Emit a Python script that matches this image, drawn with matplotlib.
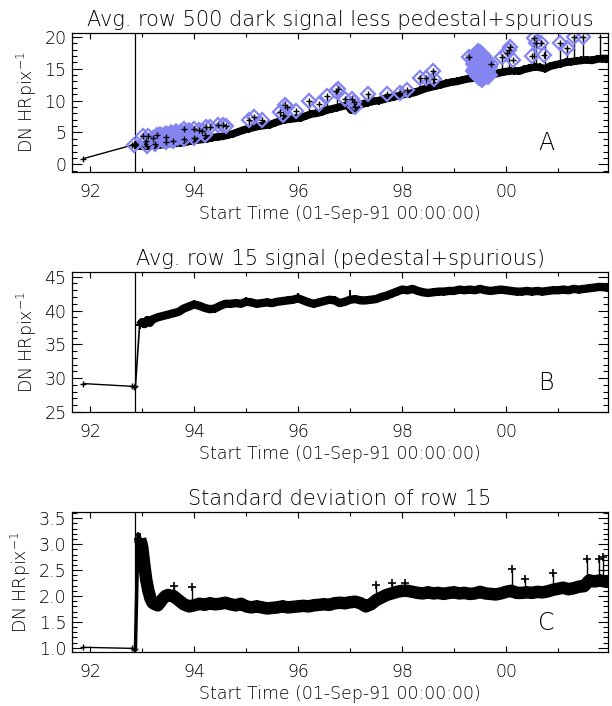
import numpy as np
import matplotlib.pyplot as plt

# x in years since 1900 (92 = 1 Jan 1992)
t_start = 91.65
t_end = 101.96
t_line = 92.87   # vertical marker line
xticks = [92, 94, 96, 98, 100]
xticklabels = ['92', '94', '96', '98', '00']
xminor = [93, 95, 97, 99, 101]

# ---- panel A : row 500 dark signal ----
a_t = [91.87, 92.80, 92.84, 92.87, 92.95, 93.05, 93.15, 93.25, 93.35, 93.45, 93.55, 93.65,
       93.75, 93.85, 93.95, 94.05, 94.15, 94.25, 94.35, 94.45, 94.55, 94.65, 94.75, 94.85,
       94.95, 95.05, 95.15, 95.25, 95.35, 95.45, 95.55, 95.65, 95.75, 95.85, 95.95, 96.05,
       96.15, 96.25, 96.35, 96.45, 96.55, 96.65, 96.75, 96.85, 96.95, 97.02, 97.08, 97.15,
       97.25, 97.35, 97.45, 97.55, 97.65, 97.75, 97.85, 97.95, 98.05, 98.15, 98.25, 98.35,
       98.45, 98.55, 98.65, 98.75, 98.85, 98.95, 99.05, 99.15, 99.25, 99.35, 99.45, 99.55,
       99.65, 99.75, 99.85, 99.95, 100.05, 100.15, 100.25, 100.35, 100.45, 100.55, 100.65,
       100.75, 100.85, 100.95, 101.05, 101.15, 101.25, 101.35, 101.45, 101.55, 101.65,
       101.75, 101.85, 101.95]
a_v = [0.9, 3.0, 3.1, 3.0, 2.9, 2.8, 2.9, 3.0, 3.1, 3.1, 3.3, 3.3,
       3.4, 3.5, 3.7, 3.8, 3.9, 4.0, 4.2, 4.3, 4.4, 4.6, 4.8, 5.1,
       5.4, 5.6, 5.8, 6.0, 6.1, 6.2, 6.5, 6.8, 7.0, 7.1, 7.2, 7.3,
       7.6, 7.9, 8.0, 8.2, 8.5, 8.7, 8.9, 9.1, 9.3, 8.5, 8.7, 9.2,
       9.5, 9.7, 9.9, 10.0, 10.2, 10.4, 10.6, 10.8, 11.0, 11.1, 11.3, 11.6,
       11.9, 12.1, 12.3, 12.5, 12.7, 12.9, 13.0, 13.2, 13.4, 13.5, 13.7, 13.8,
       13.9, 14.1, 14.3, 14.5, 14.6, 14.7, 14.6, 14.9, 15.1, 15.3, 15.2,
       15.0, 15.4, 15.6, 15.8, 16.0, 16.1, 16.2, 16.3, 16.4, 16.3,
       16.5, 16.6, 16.6]

# spikes above the band: time, band level, top
a_spike_t = [95.05, 95.15, 95.65, 95.75, 96.20, 96.55, 96.75, 97.35, 97.70, 98.10,
             98.35, 98.45, 98.60, 99.28, 99.92, 100.05, 100.53, 100.58, 100.75,
             101.03, 101.17, 101.31, 101.47, 101.81]
a_spike_lo = [5.6, 5.8, 6.8, 7.0, 7.6, 8.5, 8.9, 9.7, 10.2, 11.0,
              11.6, 11.9, 12.1, 13.4, 14.3, 14.6, 15.3, 15.3, 15.0,
              15.7, 15.9, 16.1, 16.3, 16.5]
a_spike_hi = [7.0, 7.5, 8.2, 9.3, 9.9, 10.7, 11.8, 11.0, 11.0, 11.7,
              13.6, 13.6, 14.7, 16.8, 16.9, 18.0, 19.8, 19.0, 18.8,
              18.8, 18.2, 19.9, 20.0, 20.4]

# flagged points (blue diamonds)
a_flag_t = [92.85, 93.02, 93.08, 93.12, 93.20, 93.28, 93.45, 93.80, 94.00, 94.10,
            94.16, 94.22, 94.30, 93.10, 93.25, 93.45, 93.60, 93.80, 94.00,
            94.20, 94.45, 94.55, 94.62, 95.05, 95.15, 95.30, 95.65, 95.70, 95.75, 95.78,
            95.95, 96.20, 96.40, 96.55, 96.73, 96.76, 96.90, 97.03, 97.08, 97.10, 97.35,
            97.70, 97.95, 98.10, 98.35, 98.45, 98.60, 98.62, 99.28, 99.70, 99.92, 100.02,
            100.05, 100.08, 100.13, 100.50, 100.53, 100.58, 100.67, 100.73, 101.03,
            101.17, 101.31, 101.47]
a_flag_v = [3.1, 4.4, 3.7, 4.5, 4.2, 4.6, 4.3, 5.5, 5.6, 5.4,
            5.3, 5.8, 5.9, 2.9, 3.2, 3.5, 3.6, 3.9, 4.1,
            4.6, 6.2, 6.2, 6.0, 7.0, 7.5, 7.0, 8.2, 7.8, 9.3, 9.0,
            8.4, 9.9, 9.4, 10.7, 11.5, 11.8, 10.2, 10.3, 9.8, 9.0, 11.0,
            11.0, 11.2, 11.7, 13.6, 13.6, 14.7, 13.4, 16.8, 15.7, 16.9, 17.5,
            18.0, 18.4, 16.4, 17.0, 19.8, 19.0, 19.0, 17.1, 19.0,
            18.3, 19.9, 20.0]
# dense overlapping group in 1993
a_mass_t = [93.30, 93.35, 93.40, 93.45, 93.50, 93.55, 93.60, 93.65, 93.70, 93.75,
            93.80, 93.85, 93.38, 93.45, 93.52, 93.60, 93.68, 93.75, 93.90, 93.95]
a_mass_v = [4.3, 4.6, 4.4, 4.8, 4.5, 4.9, 4.6, 5.0, 4.7, 5.1,
            4.8, 5.0, 3.9, 4.0, 4.1, 4.2, 4.3, 4.4, 5.2, 4.9]
# dense overlapping group near mid-1999
a_blob_t = [99.38, 99.42, 99.46, 99.50, 99.54, 99.58, 99.62, 99.40, 99.45, 99.50, 99.55,
            99.60, 99.65, 99.42, 99.48, 99.52, 99.58, 99.62, 99.44, 99.50, 99.56, 99.60,
            99.48, 99.54, 99.40, 99.66]
a_blob_v = [16.5, 17.0, 17.4, 17.3, 17.0, 16.6, 16.2, 15.8, 16.0, 16.3, 16.0,
            15.6, 15.2, 15.0, 15.2, 15.4, 15.0, 14.7, 14.3, 14.5, 14.2, 14.0,
            13.8, 13.6, 14.6, 14.0]

# ---- panel B : row 15 signal ----
b_t = [91.87, 92.80, 92.84, 92.87, 92.95, 93.00, 93.05, 93.10, 93.15, 93.20, 93.30, 93.40,
       93.50, 93.60, 93.70, 93.80, 93.90, 94.00, 94.10, 94.20, 94.30, 94.40, 94.50, 94.60,
       94.70, 94.80, 94.90, 95.00, 95.10, 95.20, 95.30, 95.40, 95.50, 95.60, 95.70, 95.80,
       95.90, 96.00, 96.10, 96.20, 96.30, 96.40, 96.50, 96.60, 96.70, 96.80, 96.90, 97.00,
       97.10, 97.20, 97.30, 97.40, 97.50, 97.60, 97.70, 97.80, 97.90, 98.00, 98.10, 98.20,
       98.30, 98.40, 98.50, 98.60, 98.70, 98.80, 98.90, 99.00, 99.10, 99.20, 99.30, 99.40,
       99.50, 99.60, 99.70, 99.80, 99.90, 100.00, 100.10, 100.20, 100.30, 100.40, 100.50,
       100.60, 100.70, 100.80, 100.90, 101.00, 101.10, 101.20, 101.30, 101.40, 101.50,
       101.60, 101.70, 101.80, 101.95]
b_v = [29.2, 28.8, 28.7, 28.8, 37.8, 38.3, 38.0, 38.6, 38.2, 38.7, 39.0, 39.2,
       39.4, 39.6, 39.8, 40.3, 40.6, 40.9, 40.7, 40.4, 40.2, 40.3, 40.7, 41.0,
       41.0, 41.1, 41.0, 41.3, 41.2, 41.0, 41.1, 41.2, 41.1, 41.3, 41.4, 41.5,
       41.6, 41.8, 41.5, 41.2, 41.0, 41.2, 41.4, 41.6, 41.5, 41.1, 41.3, 41.6,
       41.7, 41.5, 41.5, 41.6, 41.7, 42.0, 42.2, 42.5, 42.8, 43.1, 43.0, 43.2,
       42.9, 42.7, 42.6, 42.7, 42.8, 42.8, 42.9, 42.9, 43.1, 43.0, 43.1, 43.0,
       43.2, 43.0, 42.9, 43.0, 43.1, 43.0, 42.9, 42.8, 42.8, 42.9, 42.8,
       42.9, 42.8, 42.9, 43.0, 43.0, 43.1, 43.0, 43.2, 43.1, 43.2,
       43.3, 43.4, 43.5, 43.4]
b_spike_t = [95.0, 96.0, 97.0]
b_spike_lo = [41.3, 41.8, 41.6]
b_spike_hi = [42.0, 42.6, 43.0]

# ---- panel C : std dev of row 15 ----
c_t = [91.87, 92.80, 92.84, 92.87, 92.92, 92.96, 93.00, 93.04, 93.08, 93.12, 93.16, 93.20,
       93.25, 93.30, 93.35, 93.40, 93.45, 93.50, 93.55, 93.60, 93.65, 93.70, 93.80, 93.90,
       94.00, 94.10, 94.20, 94.30, 94.40, 94.50, 94.60, 94.70, 94.80, 94.90, 95.00, 95.10,
       95.20, 95.30, 95.40, 95.50, 95.60, 95.70, 95.80, 95.90, 96.00, 96.10, 96.20, 96.30,
       96.40, 96.50, 96.60, 96.70, 96.80, 96.90, 97.00, 97.10, 97.20, 97.30, 97.40, 97.50,
       97.60, 97.70, 97.80, 97.90, 98.00, 98.10, 98.20, 98.30, 98.40, 98.50, 98.60, 98.70,
       98.80, 98.90, 99.00, 99.10, 99.20, 99.30, 99.40, 99.50, 99.60, 99.70, 99.80, 99.90,
       100.00, 100.10, 100.20, 100.30, 100.40, 100.50, 100.60, 100.70, 100.80, 100.90,
       101.00, 101.10, 101.20, 101.30, 101.40, 101.50, 101.60, 101.70, 101.80, 101.95]
c_v = [1.01, 0.99, 0.98, 0.97, 3.20, 3.10, 2.95, 2.60, 2.30, 2.10, 1.95, 1.87,
       1.84, 1.82, 1.88, 1.95, 2.00, 2.02, 2.00, 2.00, 1.96, 1.92, 1.84, 1.80,
       1.82, 1.85, 1.83, 1.86, 1.84, 1.85, 1.87, 1.84, 1.82, 1.85, 1.80, 1.78,
       1.80, 1.78, 1.76, 1.77, 1.78, 1.80, 1.78, 1.79, 1.80, 1.81, 1.80, 1.82,
       1.83, 1.84, 1.83, 1.86, 1.87, 1.86, 1.88, 1.89, 1.86, 1.80, 1.84, 1.92,
       1.97, 2.02, 2.05, 2.08, 2.10, 2.10, 2.08, 2.06, 2.05, 2.07, 2.05, 2.06,
       2.04, 2.06, 2.07, 2.05, 2.06, 2.04, 2.05, 2.08, 2.05, 2.04, 2.03, 2.05,
       2.08, 2.10, 2.06, 2.06, 2.07, 2.06, 2.08, 2.07, 2.09, 2.12,
       2.14, 2.16, 2.13, 2.15, 2.18, 2.19, 2.30, 2.28, 2.30, 2.27]
c_spike_t = [93.62, 93.95, 97.50, 97.80, 98.05, 100.11, 100.37, 100.90, 101.56, 101.78, 101.87]
c_spike_lo = [2.00, 1.82, 1.92, 2.05, 2.10, 2.10, 2.07, 2.12, 2.28, 2.30, 2.30]
c_spike_hi = [2.20, 2.18, 2.22, 2.25, 2.25, 2.53, 2.32, 2.44, 2.72, 2.72, 2.75]

titles = ['Avg. row 500 dark signal less pedestal+spurious',
          'Avg. row 15 signal (pedestal+spurious)',
          'Standard deviation of row 15']
letters = ['A', 'B', 'C']
ylims = [(-1.2, 20.6), (25.0, 45.7), (0.92, 3.62)]
ymajor = [[0, 5, 10, 15, 20], [25, 30, 35, 40, 45], [1.0, 1.5, 2.0, 2.5, 3.0, 3.5]]
yminor_step = [1, 1, 0.1]
xlabel = 'Start Time (01-Sep-91 00:00:00)'
ylabel = 'DN HRpix$^{-1}$'

blue = '#8585f2'
W, H = 612, 706
plt.rcParams['font.family'] = 'DejaVu Sans'
plt.rcParams['font.weight'] = 200
plt.rcParams['axes.titleweight'] = 200
plt.rcParams['axes.labelweight'] = 200
plt.rcParams['mathtext.default'] = 'regular'
fig = plt.figure(figsize=(W / 100, H / 100), dpi=100)

# axes boxes in pixels: top, bottom
boxes = [(33, 172), (272, 412), (512, 652)]
left, right = 72, 608

axes = []
for i, (top, bot) in enumerate(boxes):
    ax = fig.add_axes([left / W, 1 - bot / H, (right - left) / W, (bot - top) / H])
    axes.append(ax)
    ax.set_xlim(t_start, t_end)
    ax.set_ylim(*ylims[i])
    ax.set_xticks(xticks)
    ax.set_xticklabels(xticklabels)
    ax.set_xticks(xminor, minor=True)
    ax.set_yticks(ymajor[i])
    if i == 2:
        ax.set_yticklabels(['%.1f' % v for v in ymajor[i]])
    lo, hi = ylims[i]
    ax.set_yticks(np.arange(np.ceil(lo / yminor_step[i]) * yminor_step[i], hi, yminor_step[i]),
                  minor=True)
    ax.tick_params(which='both', direction='in', top=True, right=True, labelsize=12.5,
                   width=0.8)
    ax.tick_params(axis='x', which='major', length=4, pad=8)
    ax.tick_params(axis='x', which='minor', length=3)
    ax.tick_params(axis='y', which='major', length=7, pad=4)
    ax.tick_params(axis='y', which='minor', length=3.5)
    for s in ax.spines.values():
        s.set_linewidth(0.9)
    ax.set_title(titles[i], fontsize=15, pad=5, fontweight=200)
    ax.set_xlabel(xlabel, fontsize=12.5, labelpad=3, fontweight=200)
    ax.set_ylabel(ylabel, fontsize=12.5, labelpad=4, fontweight=200)
    ax.text(0.885, 0.16, letters[i], transform=ax.transAxes, fontsize=17, ha='center')
    ax.axvline(t_line, color='k', lw=0.9)

# panel A
ax = axes[0]
ax.plot(a_t[:4], a_v[:4], '-', color='k', lw=1, marker='+', ms=4)
ax.vlines(a_spike_t, a_spike_lo, a_spike_hi, color='k', lw=1)
ax.plot(a_t[3:], a_v[3:], '-', color='k', lw=5.5, solid_capstyle='butt')
ax.plot(a_t[3:], a_v[3:], '+', color='k', ms=6, mew=1.5)
ax.plot(a_mass_t, a_mass_v, 'D', color=blue, ms=8, mew=1.2)
ax.plot(a_blob_t, a_blob_v, 'D', color=blue, ms=9, mew=1.5)
ax.plot(a_flag_t, a_flag_v, 'D', mfc='none', mec=blue, ms=7, mew=1.6)
ax.plot(a_flag_t, a_flag_v, '+', color='k', ms=5, mew=1.0)

# panel B
ax = axes[1]
ax.plot(b_t[:4], b_v[:4], '-', color='k', lw=1, marker='+', ms=4)
ax.plot(b_t[3:5], b_v[3:5], '-', color='k', lw=1.2)
ax.vlines(b_spike_t, b_spike_lo, b_spike_hi, color='k', lw=1.5)
ax.plot(b_t[4:], b_v[4:], '-', color='k', lw=6, solid_capstyle='butt')
ax.plot(b_t[4:], b_v[4:], '+', color='k', ms=6, mew=1.5)

# panel C
ax = axes[2]
ax.plot(c_t[:4], c_v[:4], '-', color='k', lw=1, marker='+', ms=4)
ax.plot(c_t[3:8], c_v[3:8], '-', color='k', lw=2.5)
ax.vlines(c_spike_t, c_spike_lo, c_spike_hi, color='k', lw=1)
ax.plot(c_spike_t, c_spike_hi, '+', color='k', ms=6, mew=1.2)
ax.plot(c_t[5:], c_v[5:], '-', color='k', lw=9, solid_capstyle='butt')
ax.plot(c_t[5:], c_v[5:], '+', color='k', ms=8, mew=1.5)

fig.savefig('out.png', dpi=100)
